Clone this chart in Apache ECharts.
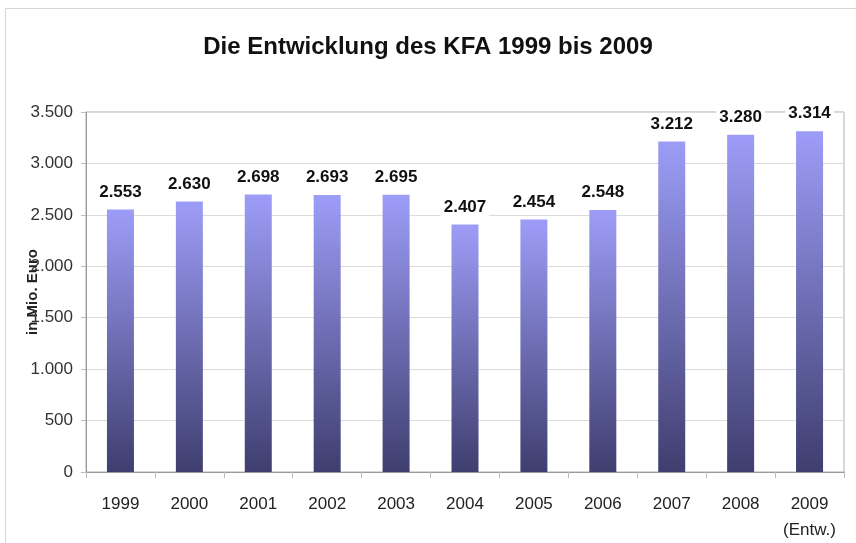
<!DOCTYPE html>
<html>
<head>
<meta charset="utf-8">
<script src="https://cdn.jsdelivr.net/npm/echarts@6/dist/echarts.min.js"></script>
<style>
  html, body { margin: 0; padding: 0; background: #fff; }
  #main { width: 856px; height: 543px; }
</style>
</head>
<body>
<div id="main"></div>
<script>
var years = ['1999', '2000', '2001', '2002', '2003', '2004', '2005', '2006', '2007', '2008', '2009\n(Entw.)'];
var kfa = [2553, 2630, 2698, 2693, 2695, 2407, 2454, 2548, 3212, 3280, 3314];
var yTicks = [0, 500, 1000, 1500, 2000, 2500, 3000, 3500];

var chart = echarts.init(document.getElementById('main'));
var fontFam = 'Liberation Sans, Arial, sans-serif';

// 1.234 style thousands separator
function dotted(v) {
  return v.toString().replace(/\B(?=(\d{3})+(?!\d))/g, '.');
}

var option = {
  backgroundColor: '#fff',
  textStyle: { fontFamily: fontFam },
  title: {
    text: 'Die Entwicklung des KFA 1999 bis 2009',
    left: 'center',
    top: 30,
    textStyle: { fontSize: 24, fontWeight: 'bold', color: '#111', fontFamily: fontFam }
  },
  graphic: [{
    type: 'rect',
    shape: { x: 5.5, y: 8.5, width: 860, height: 540 },
    style: { fill: 'none', stroke: '#d6d6d6', lineWidth: 1 },
    silent: true
  }],
  grid: {
    left: 86, right: 12, top: 112, bottom: 70,
    show: true,
    borderColor: '#b0b0b0',
    borderWidth: 1
  },
  xAxis: {
    type: 'category',
    data: years,
    axisLine: { lineStyle: { color: '#999' } },
    axisTick: { show: true, interval: 0, length: 6, lineStyle: { color: '#bbb' } },
    axisLabel: { interval: 0, color: '#222', fontSize: 17, margin: 19, lineHeight: 26, fontFamily: fontFam }
  },
  yAxis: {
    type: 'value',
    min: yTicks[0],
    max: yTicks[yTicks.length - 1],
    interval: 500,
    name: 'in Mio. Euro',
    nameLocation: 'middle',
    nameRotate: 90,
    nameGap: 46,
    nameMoveOverlap: false,
    nameTextStyle: { fontSize: 15, fontWeight: 'bold', color: '#222', fontFamily: fontFam },
    axisLine: { show: true, lineStyle: { color: '#999' } },
    axisTick: { show: true, length: 5, lineStyle: { color: '#bbb' } },
    splitLine: { lineStyle: { color: '#dcdcdc' } },
    axisLabel: {
      color: '#333', fontSize: 17, margin: 13, fontFamily: fontFam,
      formatter: dotted
    }
  },
  series: [{
    type: 'bar',
    data: kfa,
    barWidth: 27,
    itemStyle: {
      color: new echarts.graphic.LinearGradient(0, 0, 0, 1, [
        { offset: 0, color: '#9d9df8' },
        { offset: 1, color: '#3f3e6f' }
      ])
    },
    label: {
      show: true,
      position: 'top',
      distance: 8,
      fontSize: 17,
      fontWeight: 'bold',
      color: '#111',
      fontFamily: fontFam,
      backgroundColor: '#fff',
      padding: [1, 3],
      formatter: function (p) { return dotted(p.value); }
    }
  }]
};
chart.setOption(option);
</script>
</body>
</html>
